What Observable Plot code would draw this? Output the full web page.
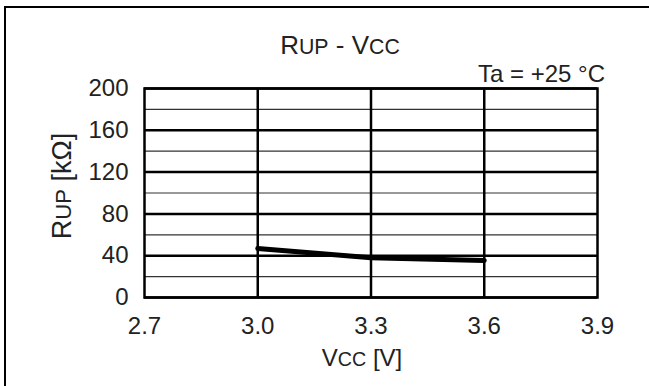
<!DOCTYPE html>
<html><head><meta charset="utf-8">
<script src="https://cdn.jsdelivr.net/npm/d3@7"></script>
<script src="https://cdn.jsdelivr.net/npm/@observablehq/plot@0.6"></script>
<style>
body{margin:0;background:#fff;}
#wrap{position:relative;width:649px;height:386px;overflow:hidden;font-family:"Liberation Sans",Arial,sans-serif;color:#222;background:#fff;}
#frame{position:absolute;left:4px;top:6px;right:-10px;bottom:-10px;border-left:2px solid #000;border-top:2px solid #000;}
#chart{position:absolute;left:0;top:0;}
.t{position:absolute;white-space:nowrap;font-size:24px;line-height:1;z-index:2;}
.sc{font-size:82%;}
</style></head><body>
<div id="wrap">
<div id="frame"></div>
<div id="chart"></div>
<div class="t" style="left:340px;top:45px;font-size:26px;transform:translate(-50%,-50%);">R<span class="sc">UP</span> - V<span class="sc">CC</span></div>
<div class="t" style="right:44px;top:74px;transform:translateY(-50%);">Ta = +25 °C</div>
<div class="t" style="left:62px;top:186px;font-size:27px;transform:translate(-50%,-50%) rotate(-90deg);">R<span class="sc">UP</span> [kΩ]</div>
<div class="t" style="left:362px;top:358px;transform:translate(-50%,-50%);">V<span class="sc">CC</span> [V]</div>
</div>
<script>
const vcc = [3.0, 3.3, 3.6];
const rup = [47, 38, 35.5];
const xTicks = [2.7, 3.0, 3.3, 3.6, 3.9];
const xGrid = [3.0, 3.3, 3.6];
const yTicks = [0, 40, 80, 120, 160, 200];
const yMinor = [20, 60, 100, 140, 180];

const data = vcc.map((v, i) => ({v, r: rup[i]}));

const chart = Plot.plot({
  width: 649, height: 386,
  marginLeft: 144, marginRight: 52, marginTop: 88, marginBottom: 89,
  x: {domain: [2.7, 3.9]},
  y: {domain: [0, 200]},
  style: {fontSize: "24px", fontFamily: "'Liberation Sans', Arial, sans-serif", color: "#222", background: "transparent"},
  marks: [
    Plot.ruleY(yMinor, {stroke: "#333", strokeWidth: 1.2}),
    Plot.ruleY(yTicks, {stroke: "#000", strokeWidth: 2.5}),
    Plot.ruleX(xGrid, {stroke: "#000", strokeWidth: 2.5}),
    Plot.frame({stroke: "#000", strokeWidth: 2.5}),
    Plot.line(data, {x: "v", y: "r", stroke: "#000", strokeWidth: 5, strokeLinecap: "round", strokeLinejoin: "round"}),
    Plot.axisX({ticks: xTicks, tickSize: 0, tickPadding: 19, tickFormat: d3.format(".1f"), fontSize: 24, label: null}),
    Plot.axisY({ticks: yTicks, tickSize: 0, tickPadding: 16, fontSize: 24, label: null})
  ]
});
document.getElementById("chart").appendChild(chart);
</script>
</body></html>
